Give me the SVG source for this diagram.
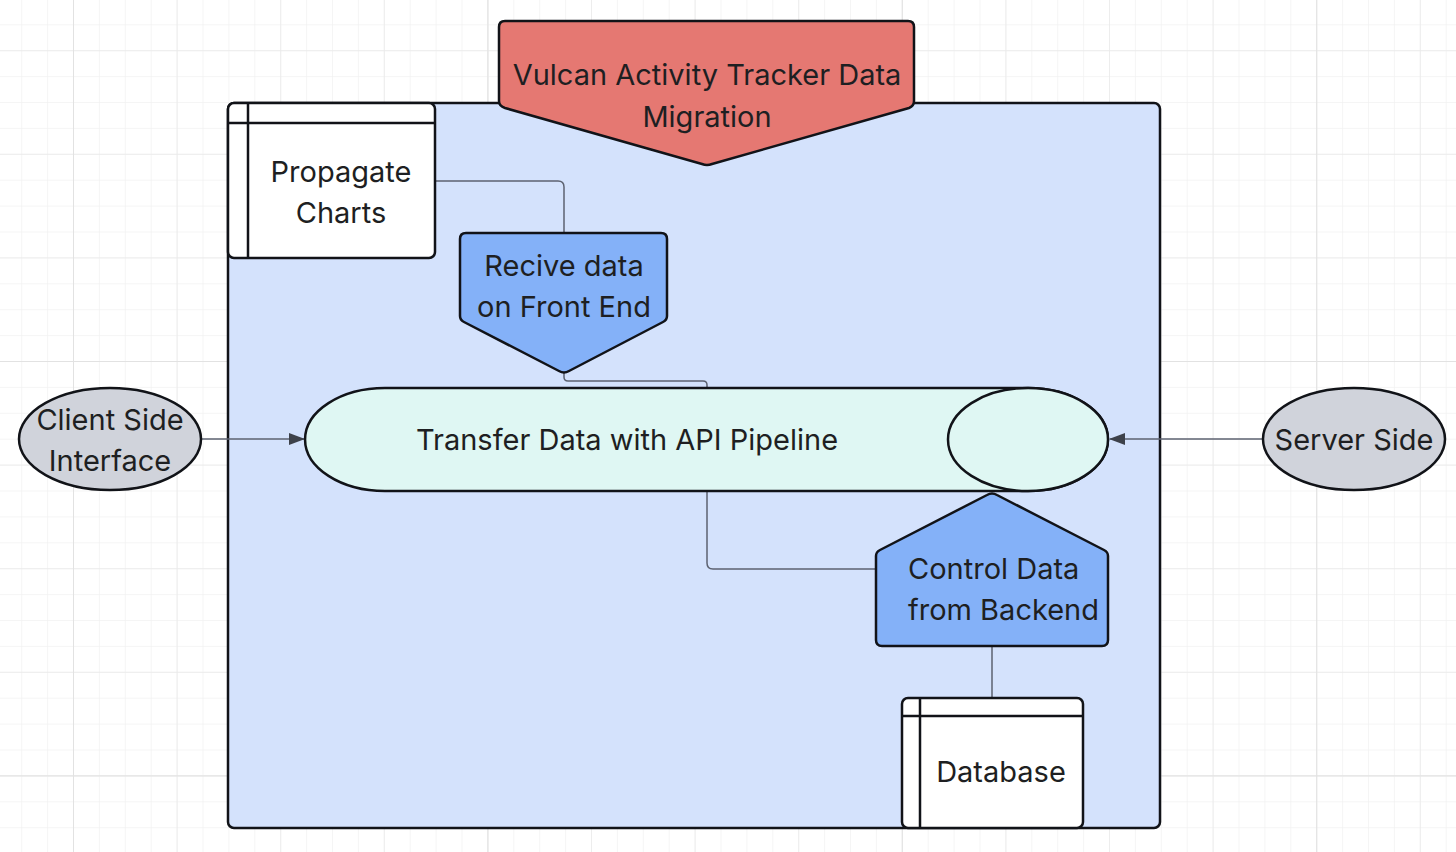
<svg xmlns="http://www.w3.org/2000/svg" width="1456" height="852" viewBox="0 0 1456 852">
<style>
  .lbl { font-family: Inter, "Noto Sans", "Liberation Sans", sans-serif; font-size: 29px; fill: #1e1f22; text-anchor: middle; }
  .shape { stroke: #111318; stroke-width: 2.5; stroke-linejoin: round; }
  .conn { fill: none; stroke: #5c6270; stroke-width: 1.5; }
</style>
<defs>
  <pattern id="minor" x="-341.4" y="-53.4" width="25.9" height="25.9" patternUnits="userSpaceOnUse">
    <path d="M0 0 H25.9 M0 0 V25.9" fill="none" stroke="#f2f2f2" stroke-width="1.5"/>
  </pattern>
  <pattern id="mid" x="-341.4" y="-53.4" width="103.6" height="103.6" patternUnits="userSpaceOnUse">
    <path d="M0 0 H103.6 M0 0 V103.6" fill="none" stroke="#eaeaea" stroke-width="1.5"/>
  </pattern>
  <pattern id="major" x="-341.4" y="-53.4" width="414.4" height="414.4" patternUnits="userSpaceOnUse">
    <path d="M0 0 H414.4 M0 0 V414.4" fill="none" stroke="#e2e2e2" stroke-width="2"/>
  </pattern>
  <marker id="arrow" viewBox="0 0 16 12" refX="15" refY="6" markerWidth="16" markerHeight="12" markerUnits="userSpaceOnUse" orient="auto">
    <path d="M0 0 L16 6 L0 12 Z" fill="#3d414a"/>
  </marker>
</defs>
<rect width="1456" height="852" fill="#ffffff"/>
<rect width="1456" height="852" fill="url(#minor)"/>
<rect width="1456" height="852" fill="url(#mid)"/>
<rect width="1456" height="852" fill="url(#major)"/>

<g id="container">
  <rect class="shape" x="228" y="103" width="932" height="725" rx="6" fill="#d4e2fc"/>
</g>

<g id="connectors">
  <path class="conn" d="M201 439 H304" marker-end="url(#arrow)"/>
  <path class="conn" d="M1263 439 H1110" marker-end="url(#arrow)"/>
  <path class="conn" d="M435 181 H558 Q564 181 564 187 V233"/>
  <path class="conn" d="M564 373 V377 Q564 381 568 381 H703 Q707 381 707 385 V388"/>
  <path class="conn" d="M707 491 V563 Q707 569 713 569 H876"/>
  <path class="conn" d="M992 646 V698"/>
</g>

<g id="title">
  <path class="shape" fill="#e57872" d="M505 21 H908 Q914 21 914 27 V101 Q914 106 909 108 L712 164 Q707 166 702 164 L505 108 Q499 106 499 101 V27 Q499 21 505 21 Z"/>
  <text class="lbl" x="707" y="85">Vulcan Activity Tracker Data</text>
  <text class="lbl" x="707" y="127">Migration</text>
</g>

<g id="propagate-charts">
  <rect class="shape" x="228" y="103" width="207" height="155" rx="6" fill="#ffffff"/>
  <path class="shape" fill="none" d="M248 103 V258 M228 123 H435"/>
  <text class="lbl" x="341" y="182">Propagate</text>
  <text class="lbl" x="341" y="223">Charts</text>
</g>

<g id="recive-data">
  <path class="shape" fill="#84b1f8" d="M466 233 H661 Q667 233 667 239 V316 Q667 320 663 322 L569 371 Q564 374 559 371 L464 322 Q460 320 460 316 V239 Q460 233 466 233 Z"/>
  <text class="lbl" x="564" y="276">Recive data</text>
  <text class="lbl" x="564" y="317">on Front End</text>
</g>

<g id="pipeline">
  <path class="shape" fill="#dff7f3" d="M385 388 H1028 A80 51.5 0 0 1 1028 491 H385 A80 51.5 0 0 1 385 388 Z"/>
  <ellipse class="shape" cx="1028" cy="439.5" rx="80" ry="51.5" fill="#dff7f3"/>
  <text class="lbl" x="627" y="450">Transfer Data with API Pipeline</text>
</g>

<g id="control-data">
  <path class="shape" fill="#84b1f8" d="M987 495 Q992 492 997 495 L1104 550 Q1108 552 1108 556 V640 Q1108 646 1102 646 H882 Q876 646 876 640 V556 Q876 552 880 550 Z"/>
  <text class="lbl" x="908" y="579" style="text-anchor:start">Control Data</text>
  <text class="lbl" x="908" y="620" style="text-anchor:start">from Backend</text>
</g>

<g id="database">
  <rect class="shape" x="902" y="698" width="181" height="130" rx="6" fill="#ffffff"/>
  <path class="shape" fill="none" d="M920 698 V828 M902 716 H1083"/>
  <text class="lbl" x="1001" y="782">Database</text>
</g>

<g id="client-side">
  <ellipse class="shape" cx="110" cy="439" rx="91" ry="51" fill="#d0d3db"/>
  <text class="lbl" x="110" y="430">Client Side</text>
  <text class="lbl" x="110" y="471">Interface</text>
</g>

<g id="server-side">
  <ellipse class="shape" cx="1354" cy="439" rx="91" ry="51" fill="#d0d3db"/>
  <text class="lbl" x="1354" y="450">Server Side</text>
</g>
</svg>
